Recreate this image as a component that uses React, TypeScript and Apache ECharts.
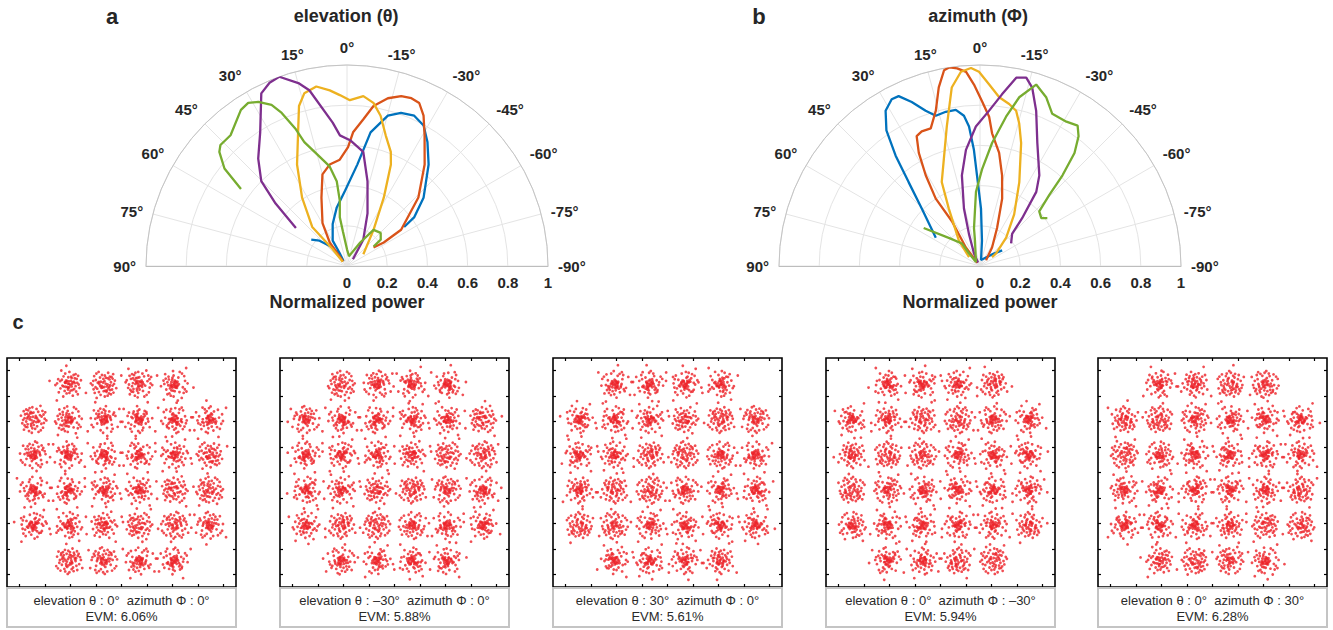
import React, { useEffect, useRef } from 'react';
import * as echarts from 'echarts';

// [angle (deg), normalized power]
const ELEV_BLUE: [number, number][] = [[53.6,0.221],[47.4,0.186],[37.6,0.116],[35,0.03],[29.7,0.073],[29.4,0.145],[18.8,0.221],[9.9,0.296],[1.5,0.374],[-5.8,0.507],[-10,0.675],[-15.2,0.775],[-19.4,0.808],[-24.1,0.819],[-28.6,0.796],[-33,0.735],[-38.8,0.648],[-48.3,0.51],[-54,0.414],[-55.7,0.344]];
const ELEV_ORANGE: [number, number][] = [[40,0.03],[36.3,0.145],[29.7,0.246],[20.5,0.363],[15,0.472],[9.7,0.512],[3.9,0.53],[-0.5,0.592],[-2.6,0.666],[-6.3,0.733],[-9.4,0.807],[-13.7,0.859],[-17.7,0.887],[-21,0.894],[-23.9,0.887],[-27,0.839],[-30.7,0.756],[-37.4,0.636],[-46.2,0.492],[-56.2,0.324],[-57.4,0.217],[-55,0.161]];
const ELEV_YELLOW: [number, number][] = [[45,0.03],[40.5,0.109],[41.7,0.26],[33.3,0.407],[26.2,0.563],[20.1,0.708],[16.7,0.831],[13.9,0.885],[9.7,0.906],[5.6,0.878],[2.4,0.851],[-1,0.825],[-5.5,0.849],[-9.2,0.822],[-12.6,0.766],[-16.5,0.678],[-21,0.608],[-23.4,0.55],[-28.3,0.386],[-36.3,0.223],[-54.4,0.1]];
const ELEV_PURPLE: [number, number][] = [[53.3,0.317],[48.8,0.472],[45.3,0.6],[39.6,0.693],[33,0.793],[26.4,0.959],[22.9,0.99],[19.7,1.0],[14.7,0.939],[12.1,0.894],[5.7,0.717],[3.1,0.651],[-1.4,0.626],[-8.1,0.574],[-13.6,0.434],[-21.3,0.281],[-31.7,0.154],[-41,0.045]];
const ELEV_GREEN: [number, number][] = [[54,0.652],[51.5,0.779],[48.2,0.852],[46.3,0.871],[41.7,0.871],[34.2,0.939],[31.2,0.949],[28.4,0.928],[25.1,0.885],[23.1,0.828],[20.5,0.726],[19,0.652],[14.1,0.561],[9.9,0.503],[6.9,0.425],[6.3,0.327],[8.4,0.245],[6.7,0.171],[0,0.083],[-11.5,0.05],[-29.4,0.134],[-36.3,0.223],[-45.5,0.235],[-52,0.213],[-53.7,0.164]];

const AZ_BLUE: [number, number][] = [[57.4,0.261],[45.4,0.407],[40.4,0.548],[37.4,0.691],[34.6,0.82],[31.3,0.904],[27.9,0.939],[25.6,0.937],[22.6,0.884],[19.3,0.818],[16.4,0.779],[12.5,0.786],[8.8,0.786],[6.1,0.752],[4.5,0.696],[3,0.579],[1.9,0.451],[-1,0.286],[-4.5,0.126],[-10,0.03],[-46,0.083],[-54.7,0.135]];
const AZ_ORANGE: [number, number][] = [[40,0.02],[37.3,0.116],[32.1,0.263],[33.3,0.401],[30.9,0.526],[28.4,0.64],[26,0.719],[23.4,0.73],[19.7,0.727],[15.9,0.803],[13,0.912],[10.4,0.99],[8.7,1.0],[6.6,0.99],[4.1,0.968],[1.9,0.903],[-0.7,0.82],[-3.5,0.744],[-5.2,0.663],[-9.6,0.571],[-13.7,0.464],[-18.2,0.353],[-24.2,0.207],[-33,0.11],[-46,0.042]];
const AZ_YELLOW: [number, number][] = [[51,0.07],[39.8,0.164],[28.5,0.326],[24.5,0.459],[18.8,0.559],[13.4,0.713],[9,0.899],[5.6,0.971],[2.6,0.986],[0.3,0.966],[-2.9,0.904],[-6.5,0.845],[-10.2,0.819],[-13.1,0.793],[-15.4,0.735],[-18.5,0.645],[-25.1,0.461],[-33.5,0.308],[-42.7,0.192],[-51.8,0.102],[-53.7,0.074]];
const AZ_PURPLE: [number, number][] = [[30,0.02],[25.5,0.07],[19,0.169],[15.6,0.297],[11.3,0.46],[6.9,0.582],[1.7,0.694],[-3.3,0.773],[-7.3,0.861],[-10.9,0.954],[-13.8,0.965],[-16.3,0.925],[-19.9,0.821],[-25,0.675],[-33.2,0.539],[-37.2,0.463],[-41.4,0.317],[-45,0.226],[-54.1,0.191]];
const AZ_GREEN: [number, number][] = [[56,0.338],[47,0.2],[38.8,0.144],[41,0.084],[46,0.028],[11.2,0.129],[9,0.191],[3.1,0.37],[-1.2,0.481],[-5.6,0.615],[-9.9,0.754],[-13.1,0.862],[-17.2,0.945],[-21.4,0.902],[-25.4,0.838],[-30.9,0.837],[-34.8,0.851],[-37.2,0.811],[-39.9,0.733],[-42.3,0.61],[-44.3,0.494],[-47.3,0.401],[-52,0.387],[-54.6,0.411]];

const LINE_COLORS = ['#0072BD', '#D95319', '#EDB120', '#7E2F8E', '#77AC30'];
const RADIUS_TICKS = ['0', '0.2', '0.4', '0.6', '0.8', '1'];

// 32-QAM constellation levels and scatter offsets (hand typed)
const LEVELS = [-3.47, -2.08, -0.69, 0.69, 2.08, 3.47];
const NOISE: [number, number][] = [
  [0.12,-0.05],[-0.21,0.14],[0.05,0.31],[-0.08,-0.18],[0.27,0.09],[-0.33,-0.07],[0.16,-0.24],[-0.02,0.06],
  [0.09,0.19],[-0.15,-0.29],[0.38,-0.12],[-0.26,0.27],[0.03,-0.41],[0.21,0.22],[-0.11,0.02],[-0.41,0.15],
  [0.30,0.34],[0.07,-0.13],[-0.19,-0.02],[0.14,0.44],[-0.05,-0.22],[0.44,0.03],[-0.29,-0.35],[0.18,-0.37],
  [-0.07,0.25],[0.25,-0.01],[-0.36,0.33],[0.01,0.13],[0.11,-0.30],[-0.23,0.07],[0.33,0.18],[-0.13,0.39],
  [0.06,-0.08],[-0.44,-0.19],[0.22,0.11],[-0.03,-0.47],[0.49,-0.26],[-0.17,0.20],[0.10,0.01],[-0.09,-0.11],
  [0.28,-0.18],[-0.31,0.03],[0.04,0.22],[0.19,0.29],[-0.24,-0.14],[0.13,-0.09],[-0.01,0.36],[0.36,0.25],
  [-0.12,-0.38],[0.23,0.05],[-0.38,-0.27],[0.08,0.10],[-0.20,0.31],[0.31,-0.33],[-0.06,-0.03],[0.15,0.16],
  [-0.27,0.21],[0.41,0.13],[0.00,-0.16],[-0.16,0.08],[0.26,-0.43],[-0.47,0.05],[0.07,0.48],[0.55,0.38],
  [0.04,0.07],[-0.06,0.03],[0.09,-0.04],[-0.03,-0.09],[0.01,0.02],[0.12,0.08],[-0.10,-0.05],[0.05,-0.12],
  [-0.08,0.11],[0.02,-0.02],[0.07,0.14],[-0.13,-0.01],[0.66,-0.08],[-0.58,-0.42],[0.12,-0.68],[-0.31,0.62]
];
const FRAME_TICKS = [-4, -3, -2, -1, 0, 1, 2, 3, 4];
const PANEL_ELEVATION = ['0°', '–30°', '30°', '0°', '0°'];
const PANEL_AZIMUTH = ['0°', '0°', '0°', '–30°', '30°'];
const PANEL_EVM = ['6.06%', '5.88%', '5.61%', '5.94%', '6.28%'];

const FONT = 'Arial, "Liberation Sans", Helvetica, sans-serif';
const TXT = '#262626';
const SPREAD = 1.1;
const PER_CLUSTER = 60;

function clusterPoints(panel: number): [number, number][] {
  const pts: [number, number][] = [];
  let k = 0;
  for (let iy = 0; iy < 6; iy++) {
    for (let ix = 0; ix < 6; ix++) {
      const corner = (ix === 0 || ix === 5) && (iy === 0 || iy === 5);
      if (corner) continue;
      const cx = LEVELS[ix];
      const cy = LEVELS[iy];
      const t = (k + panel * 3) % 8;
      const start = (k * 11 + panel * 17) % NOISE.length;
      for (let j = 0; j < PER_CLUSTER; j++) {
        let [nx, ny] = NOISE[(start + j) % NOISE.length];
        if (t & 1) nx = -nx;
        if (t & 2) ny = -ny;
        if (t & 4) { const s = nx; nx = ny; ny = s; }
        pts.push([cx + nx * SPREAD, cy + ny * SPREAD]);
      }
      k++;
    }
  }
  return pts;
}

export default function App() {
  const ref = useRef<HTMLDivElement>(null);
  useEffect(() => {
    const chart = echarts.init(ref.current as HTMLDivElement, null, { renderer: 'svg' });
    const R = 201;
    const centers: [number, number][] = [[347, 266], [980, 266]];
    const polarSets = [
      [ELEV_BLUE, ELEV_ORANGE, ELEV_YELLOW, ELEV_PURPLE, ELEV_GREEN],
      [AZ_BLUE, AZ_ORANGE, AZ_YELLOW, AZ_PURPLE, AZ_GREEN],
    ];
    const panelLefts = [7, 280, 553, 826, 1098];
    const PW = 229;
    const PT = 358;

    const grids: any[] = [];
    const xAxes: any[] = [];
    const yAxes: any[] = [];
    const series: any[] = [];
    const graphic: any[] = [];

    panelLefts.forEach((left, i) => {
      grids.push({ left, top: PT, width: PW, height: PW, show: true, borderColor: '#000', borderWidth: 1.6, backgroundColor: '#fff' });
      const tick = { show: true, inside: true, length: 3, customValues: FRAME_TICKS, lineStyle: { color: '#000', width: 1.2 } };
      ['bottom', 'top'].forEach((pos) => xAxes.push({ gridIndex: i, type: 'value', min: -4.5, max: 4.5, position: pos, axisLine: { show: false, onZero: false }, axisLabel: { show: false }, splitLine: { show: false }, axisTick: tick }));
      ['left', 'right'].forEach((pos) => yAxes.push({ gridIndex: i, type: 'value', min: -4.5, max: 4.5, position: pos, axisLine: { show: false, onZero: false }, axisLabel: { show: false }, splitLine: { show: false }, axisTick: tick }));
      series.push({ type: 'scatter', xAxisIndex: 2 * i, yAxisIndex: 2 * i, data: clusterPoints(i), symbol: 'circle', symbolSize: 2.8, itemStyle: { color: '#EC2127' }, silent: true });
      graphic.push({ type: 'rect', shape: { x: left, y: 588, width: PW, height: 39 }, style: { fill: '#fff', stroke: '#C4C4C4', lineWidth: 2 } });
      graphic.push({ type: 'text', x: left + PW / 2, y: 600, style: { text: `elevation θ : ${PANEL_ELEVATION[i]}  azimuth Φ : ${PANEL_AZIMUTH[i]}`, font: `13px ${FONT}`, fill: '#2a2a2a', textAlign: 'center', textVerticalAlign: 'middle' } });
      graphic.push({ type: 'text', x: left + PW / 2, y: 616, style: { text: `EVM: ${PANEL_EVM[i]}`, font: `13px ${FONT}`, fill: '#2a2a2a', textAlign: 'center', textVerticalAlign: 'middle' } });
    });

    centers.forEach(([cx, cy], p) => {
      grids.push({ left: cx - R, top: cy - 1, width: 2 * R, height: 1 });
      xAxes.push({
        gridIndex: 5 + p, type: 'value', min: -1, max: 1, interval: 0.2, position: 'bottom',
        axisLine: { show: true, onZero: false, lineStyle: { color: '#BDBDBD', width: 1 } }, axisTick: { show: false }, splitLine: { show: false },
        axisLabel: {
          margin: 9, fontSize: 15, fontWeight: 'bold', color: TXT, fontFamily: FONT,
          formatter: (v: number) => { if (v < -1e-6) return ''; const idx = Math.round(v * 5); return RADIUS_TICKS[idx] ?? ''; },
        },
        name: 'Normalized power', nameLocation: 'middle', nameGap: 27,
        nameTextStyle: { fontSize: 18, fontWeight: 'bold', color: TXT, fontFamily: FONT },
      });
      yAxes.push({ gridIndex: 5 + p, type: 'value', min: 0, max: 1, show: false });
      polarSets[p].forEach((arr, s) => {
        series.push({
          type: 'line', coordinateSystem: 'polar', polarIndex: p,
          data: arr.map(([a, r]) => [r, a]), showSymbol: false, symbol: 'none',
          lineStyle: { width: 2.3, color: LINE_COLORS[s] }, itemStyle: { color: LINE_COLORS[s] }, silent: true,
        });
      });
    });

    graphic.push({ type: 'text', x: 112, y: 16, style: { text: 'a', font: `bold 22px ${FONT}`, fill: TXT, textAlign: 'center', textVerticalAlign: 'middle' } });
    graphic.push({ type: 'text', x: 346, y: 16, style: { text: 'elevation (θ)', font: `bold 18px ${FONT}`, fill: TXT, textAlign: 'center', textVerticalAlign: 'middle' } });
    graphic.push({ type: 'text', x: 759, y: 16, style: { text: 'b', font: `bold 22px ${FONT}`, fill: TXT, textAlign: 'center', textVerticalAlign: 'middle' } });
    graphic.push({ type: 'text', x: 978, y: 16, style: { text: 'azimuth (Φ)', font: `bold 18px ${FONT}`, fill: TXT, textAlign: 'center', textVerticalAlign: 'middle' } });
    graphic.push({ type: 'text', x: 18, y: 322, style: { text: 'c', font: `bold 20px ${FONT}`, fill: TXT, textAlign: 'center', textVerticalAlign: 'middle' } });

    const polar = centers.map((c) => ({ center: c, radius: R }));
    const angleAxis = centers.map((_, p) => ({
      polarIndex: p, type: 'value', min: -90, max: 90, interval: 15, startAngle: 0, endAngle: 180, clockwise: false,
      axisLine: { show: true, lineStyle: { color: '#C4C4C4', width: 1 } }, axisTick: { show: false },
      splitLine: { show: true, lineStyle: { color: '#E4E4E4', width: 1 } },
      axisLabel: { margin: 10, fontSize: 15, fontWeight: 'bold', color: TXT, fontFamily: FONT, formatter: (v: number) => `${v}°` },
    }));
    const radiusAxis = centers.map((_, p) => ({
      polarIndex: p, type: 'value', min: 0, max: 1, interval: 0.2,
      axisLine: { show: false }, axisTick: { show: false }, axisLabel: { show: false },
      splitLine: { show: true, lineStyle: { color: '#E4E4E4', width: 1 } },
    }));

    chart.setOption({
      animation: false,
      backgroundColor: '#fff',
      polar, angleAxis, radiusAxis,
      grid: grids, xAxis: xAxes, yAxis: yAxes,
      series, graphic,
    });
    return () => chart.dispose();
  }, []);
  return <div ref={ref} style={{ position: 'fixed', left: 0, top: 0, width: 1333, height: 630, background: '#fff' }} />;
}
